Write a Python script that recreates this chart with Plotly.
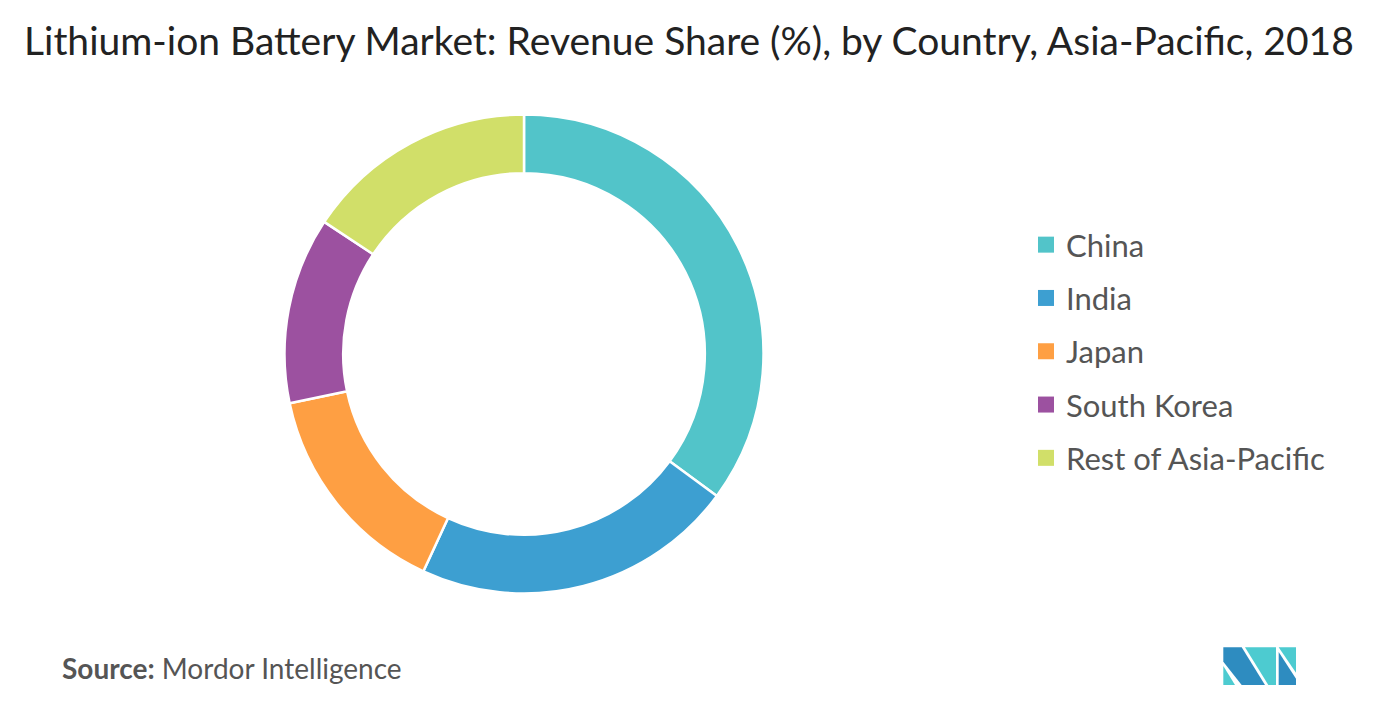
import plotly.graph_objects as go

countries = ["China", "India", "Japan", "South Korea", "Rest of Asia-Pacific"]
shares = [35.1, 21.8, 14.8, 12.6, 15.7]
colors = ["#52C4C9", "#3D9FD1", "#FE9F43", "#9C51A0", "#D1DF69"]

W, H = 1395, 705
OFF = 8  # page body margin offset

cx, cy, R = 524 - OFF, 354 - OFF, 239.5

fig = go.Figure()
fig.add_trace(go.Pie(
    labels=countries, values=shares, sort=False, direction="clockwise",
    rotation=0, hole=0.755, textinfo="none", hoverinfo="label+percent",
    marker=dict(colors=colors, line=dict(color="white", width=2.5)),
    showlegend=False,
    domain=dict(x=[(cx - R) / W, (cx + R) / W], y=[(H - cy - R) / H, (H - cy + R) / H]),
))
for i, (c, col) in enumerate(zip(countries, colors)):
    fig.add_trace(go.Scatter(
        x=[None], y=[None], mode="markers", name=c, legendgroup=f"g{i}",
        marker=dict(symbol="square", size=16, color=col),
    ))

def px(x, y):
    return (1200 - OFF + x / 3) / W, 1 - (630 - OFF + y / 3) / H

def path(pts):
    s = ""
    for k, (x, y) in enumerate(pts):
        xp, yp = px(x, y)
        s += ("M" if k == 0 else "L") + f"{xp:.5f},{yp:.5f} "
    return s + "Z"

dark, light = "#2E8CC0", "#4DCBD0"
logo = [
    (dark, [(70, 52), (125, 52), (195, 165), (125, 165), (70, 95)]),
    (light, [(70, 108), (105, 165), (70, 165)]),
    (light, [(135, 52), (228, 52), (228, 165), (205, 165)]),
    (light, [(236, 52), (288, 52), (288, 128)]),
    (dark, [(236, 66), (288, 146), (288, 165), (236, 165)]),
]
shapes = [dict(type="path", xref="paper", yref="paper", path=path(p), fillcolor=c,
               line=dict(width=0), layer="above") for c, p in logo]

fig.update_layout(
    width=W, height=H, margin=dict(l=0, r=0, t=0, b=0),
    paper_bgcolor="white", plot_bgcolor="white",
    xaxis=dict(visible=False), yaxis=dict(visible=False),
    font=dict(family="Lato", color="#555555"),
    legend=dict(x=1018 / W, y=1 - 210 / H, xanchor="left", yanchor="top",
                font=dict(size=31, color="#555555", family="Lato"),
                tracegroupgap=10, itemwidth=30),
    shapes=shapes,
    annotations=[
        dict(text="Lithium-ion Battery Market: Revenue Share (%), by Country, Asia-Pacific, 2018",
             x=(22 - OFF) / W, y=1 - (40 - OFF) / H, xref="paper", yref="paper",
             xanchor="left", yanchor="middle",
             showarrow=False, font=dict(size=39, color="#222222", family="Lato")),
        dict(text="<b>Source:</b> Mordor Intelligence",
             x=(60 - OFF) / W, y=1 - (668 - OFF) / H, xref="paper", yref="paper",
             xanchor="left", yanchor="middle",
             showarrow=False, font=dict(size=28, color="#555555", family="Lato")),
    ],
)
fig.write_html("out.html")
